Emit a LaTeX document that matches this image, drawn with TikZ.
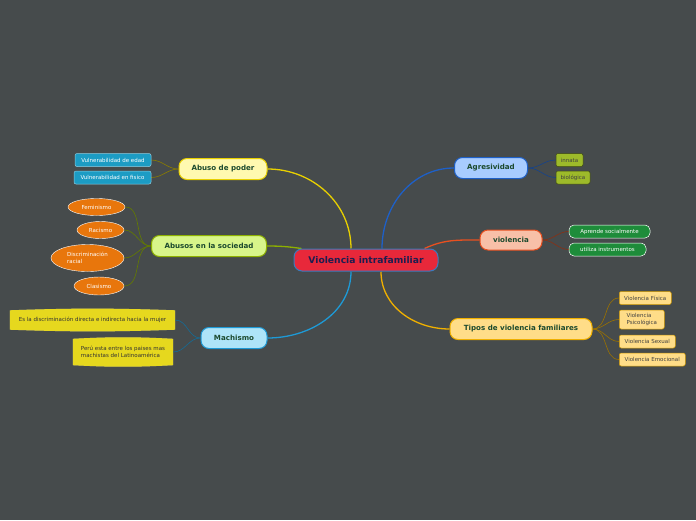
\documentclass[tikz,border=0pt]{standalone}
\usepackage{fontspec}
\setmainfont{DejaVu Sans}
\usepackage{tikz}
\usetikzlibrary{arrows.meta,positioning,backgrounds,calc,shapes.geometric}
\definecolor{mmBg}{HTML}{464B4C}
\definecolor{mmRootFill}{HTML}{E8283A}
\definecolor{mmRootDraw}{HTML}{3A7BBF}
\definecolor{mmRootInk}{HTML}{1E1E50}
\definecolor{mmNodeInk}{HTML}{1C4A2E}
\definecolor{mmYellow}{HTML}{E8D000}
\definecolor{mmYellowFill}{HTML}{FFF9B0}
\definecolor{mmLime}{HTML}{8DB000}
\definecolor{mmLimeFill}{HTML}{D8F58A}
\definecolor{mmSky}{HTML}{1E9AD6}
\definecolor{mmSkyFill}{HTML}{AEE4F8}
\definecolor{mmBlue}{HTML}{1E60C8}
\definecolor{mmBlueFill}{HTML}{A8CCFF}
\definecolor{mmRed}{HTML}{E85020}
\definecolor{mmRedFill}{HTML}{F8C0A8}
\definecolor{mmGold}{HTML}{F0B000}
\definecolor{mmGoldFill}{HTML}{FFDD88}
\definecolor{mmTeal}{HTML}{1C9CC4}
\definecolor{mmOrange}{HTML}{E8760C}
\definecolor{mmMustard}{HTML}{E6D81E}
\definecolor{mmOlive}{HTML}{9DBA2A}
\definecolor{mmGreen}{HTML}{1E8C3A}
\tikzset{
  % Central topic
  rootbox/.style={rectangle,rounded corners=8pt,
    minimum width=144,minimum height=22,
    draw=mmRootDraw,fill=mmRootFill,line width=1pt,
    font=\fontsize{9.2}{11}\selectfont\bfseries,text=mmRootInk},
  % Main branch (colour given as argument)
  brbox/.style={rectangle,rounded corners=8pt,
    minimum height=21,line width=1pt,inner xsep=2pt,
    draw=#1,fill=#1Fill,
    font=\fontsize{7.1}{8.5}\selectfont\bfseries,text=mmNodeInk},
  % Small leaf box
  leaf/.style={rectangle,rounded corners=2pt,
    minimum height=13,inner xsep=3pt,inner ysep=1.5pt,
    font=\fontsize{5.5}{6.4}\selectfont,line width=0.5pt},
  tealleaf/.style={leaf,fill=mmTeal,draw=mmTeal!50!white,text=white},
  oliveleaf/.style={leaf,fill=mmOlive,draw=mmOlive!40!black,text=black!75},
  greenleaf/.style={leaf,rounded corners=5pt,fill=mmGreen,draw=white!75,text=white},
  goldleaf/.style={leaf,fill=mmGoldFill,draw=mmGold!85!black,text=black!75,align=left},
  % Orange ellipse
  oval/.style={ellipse,fill=mmOrange,draw=white!70,line width=0.4pt,
    inner sep=0pt,font=\fontsize{5.5}{6.4}\selectfont,text=white},
  % Barrel shaped note (shape drawn on background)
  barrel/.style={rectangle,inner xsep=4pt,inner ysep=3pt,
    font=\fontsize{5.5}{6.8}\selectfont,text=black!80,align=left},
  % Connectors
  conn/.style={line width=1.3pt,color=#1},
  subconn/.style={line width=0.6pt,color=#1},
}
\newcommand{\barrelshape}[2]{%
  \fill[black!45,yshift=-0.8pt] (#1.north west) to[bend left=#2] (#1.north east)
    -- (#1.south east) to[bend left=#2] (#1.south west) -- cycle;
  \fill[mmMustard] (#1.north west) to[bend left=#2] (#1.north east)
    -- (#1.south east) to[bend left=#2] (#1.south west) -- cycle;}

\begin{document}
\begin{tikzpicture}[x=1pt,y=1pt]
  \useasboundingbox (0,0) rectangle (696,-520);

  % Central topic
  \node[rootbox] (root) at (366,-260) {Violencia intrafamiliar};

  % Main branches
  \node[brbox=mmYellow,minimum width=88] (abuso) at (223,-169) {Abuso de poder};
  \node[brbox=mmLime,minimum width=115] (socie) at (209,-246) {Abusos en la sociedad};
  \node[brbox=mmSky,minimum width=66] (machi) at (234,-338) {Machismo};
  \node[brbox=mmBlue,minimum width=73] (agres) at (491,-168) {Agresividad};
  \node[brbox=mmRed,minimum width=62,minimum height=20] (viole) at (511,-240) {violencia};
  \node[brbox=mmGold,minimum width=142] (tipos) at (521,-329) {Tipos de violencia familiares};

  % Abuso de poder leaves
  \node[tealleaf,minimum width=76] (vedad) at (113,-160) {Vulnerabilidad de edad};
  \node[tealleaf,minimum width=77] (vfisi) at (112.5,-177.5) {Vulnerabilidad en fisico};

  % Abusos en la sociedad leaves
  \node[oval,minimum width=57,minimum height=17] (femin) at (96.5,-207) {Feminismo};
  \node[oval,minimum width=47,minimum height=17] (racis) at (100.5,-230) {Racismo};
  \node[oval,minimum width=73,minimum height=27,align=left] (discr) at (87.5,-258)
    {Discriminación\\racial};
  \node[oval,minimum width=50,minimum height=18] (clasi) at (99,-286) {Clasismo};

  % Machismo leaves
  \node[barrel,minimum width=165,minimum height=19] (mach1) at (92.5,-320)
    {Es la discriminación directa e indirecta hacia la mujer};
  \node[barrel,minimum width=100,minimum height=26] (mach2) at (123,-352)
    {Perú esta entre los paises mas\\machistas del Latinoamérica};

  % Agresividad leaves
  \node[oliveleaf,minimum width=27] (innat) at (569.5,-160) {innata};
  \node[oliveleaf,minimum width=34] (biolo) at (573,-177.5) {biológica};

  % violencia leaves
  \node[greenleaf,minimum width=81] (apren) at (609.5,-231.5) {Aprende socialmente};
  \node[greenleaf,minimum width=77] (utili) at (607.5,-249.5) {utiliza instrumentos};

  % Tipos de violencia leaves
  \node[goldleaf,minimum width=52,anchor=west] (vfis) at (619,-298) {Violencia Física};
  \node[goldleaf,minimum width=45,minimum height=19,anchor=west] (vpsi) at (619,-319.5)
    {Violencia\\Psicológica};
  \node[goldleaf,minimum width=56,anchor=west] (vsex) at (619,-341.5) {Violencia Sexual};
  \node[goldleaf,minimum width=66,anchor=west] (vemo) at (619,-359.5) {Violencia Emocional};

  \begin{scope}[on background layer]
    \fill[mmBg] (0,0) rectangle (696,-520);

    % Barrel notes
    \barrelshape{mach1}{2}
    \barrelshape{mach2}{3}

    % Branch connectors
    \draw[conn=mmYellow] ($(root.north)+(-15,0)$) to[out=90,in=0] (abuso.east);
    \draw[conn=mmLime] ($(root.north west)+(8,0)$) to[out=172,in=0] (socie.east);
    \draw[conn=mmSky] ($(root.south)+(-15,0)$) to[out=270,in=0] (machi.east);
    \draw[conn=mmBlue] ($(root.north)+(16,0)$) to[out=90,in=180] (agres.west);
    \draw[conn=mmRed] ($(root.north east)+(-14,0)$) to[out=25,in=180] (viole.west);
    \draw[conn=mmGold] ($(root.south)+(15,0)$) to[out=270,in=180] (tipos.west);

    % Leaf connectors
    \foreach \n in {vedad,vfisi}
      \draw[subconn=mmYellow!60!black] (abuso.west) to[out=180,in=0] (\n.east);
    \foreach \n in {femin,racis,discr,clasi}
      \draw[subconn=mmLime!70!black] (socie.west) to[out=180,in=0] (\n.east);
    \foreach \n in {mach1,mach2}
      \draw[subconn=mmSky!70!black] (machi.west) to[out=180,in=0] (\n.east);
    \foreach \n in {innat,biolo}
      \draw[subconn=mmBlue!70!black] (agres.east) to[out=0,in=180] (\n.west);
    \foreach \n in {apren,utili}
      \draw[subconn=mmRed!60!black] (viole.east) to[out=0,in=180] (\n.west);
    \foreach \n in {vfis,vpsi,vsex,vemo}
      \draw[subconn=mmGold!65!black] (tipos.east) to[out=0,in=180] (\n.west);
  \end{scope}
\end{tikzpicture}
\end{document}
